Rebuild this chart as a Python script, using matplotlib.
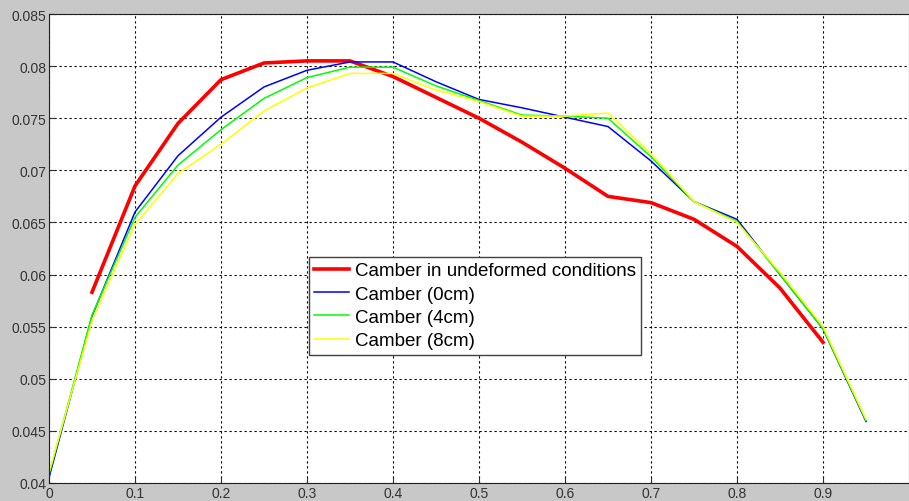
import numpy as np
import matplotlib.pyplot as plt

plt.rcParams['font.family'] = ['Liberation Sans', 'DejaVu Sans']

x = [0.0, 0.05, 0.1, 0.15, 0.2, 0.25, 0.3, 0.35, 0.4, 0.45, 0.5,
     0.55, 0.6, 0.65, 0.7, 0.75, 0.8, 0.85, 0.9, 0.95]

# undeformed camber only from 0.05 to 0.9
x_undef = x[1:19]
camber_undef = [0.0583, 0.0685, 0.0745, 0.0787, 0.0803, 0.0805, 0.0805, 0.0790,
                0.0770, 0.0750, 0.0727, 0.0702, 0.0675, 0.0669, 0.0653, 0.0627,
                0.0587, 0.0535]
camber_0 = [0.0405, 0.0560, 0.0660, 0.0714, 0.0751, 0.0780, 0.0796, 0.0804, 0.0804,
            0.0785, 0.0768, 0.0760, 0.0751, 0.0742, 0.0709, 0.0670, 0.0653, 0.0600,
            0.0548, 0.0459]
camber_4 = [0.0408, 0.0561, 0.0655, 0.0705, 0.0739, 0.0769, 0.0789, 0.0799, 0.0799,
            0.0781, 0.0767, 0.0753, 0.0752, 0.0750, 0.0713, 0.0670, 0.0651, 0.0600,
            0.0548, 0.0460]
camber_8 = [0.0410, 0.0556, 0.0648, 0.0697, 0.0725, 0.0757, 0.0779, 0.0793, 0.0793,
            0.0777, 0.0766, 0.0752, 0.0752, 0.0755, 0.0716, 0.0670, 0.0650, 0.0602,
            0.0550, 0.0461]

fig = plt.figure(figsize=(9.09, 5.02), dpi=100, facecolor='#c8c8c8')
ax = fig.add_axes([49/909, 18/502, 1 - 49/909, (484-15)/502])
ax.set_facecolor('white')

ax.plot(x_undef, camber_undef, color='#ff0000', lw=2.6, label='Camber in undeformed conditions')
ax.plot(x, camber_0, color='#0000ff', lw=1.1, label='Camber (0cm)')
ax.plot(x, camber_4, color='#00ff00', lw=1.1, label='Camber (4cm)')
ax.plot(x, camber_8, color='#ffff00', lw=1.1, label='Camber (8cm)')

ax.set_xlim(0, 1.0)
ax.set_ylim(0.04, 0.085)
ax.set_xticks(np.arange(0, 1.0, 0.1))
ax.set_xticklabels(['0', '0.1', '0.2', '0.3', '0.4', '0.5', '0.6', '0.7', '0.8', '0.9'])
yt = np.arange(0.04, 0.0851, 0.005)
ax.set_yticks(yt)
ax.set_yticklabels(['0.04', '0.045', '0.05', '0.055', '0.06', '0.065', '0.07',
                    '0.075', '0.08', '0.085'])
ax.tick_params(direction='in', length=4, labelsize=10, colors='#333333', pad=2)
ax.grid(True, color='black', linestyle=(0, (2, 2.5)), lw=0.8)
for s in ax.spines.values():
    s.set_color('#202020')

leg = ax.legend(loc='lower left', bbox_to_anchor=(0.302, 0.273), fontsize=13.5,
                frameon=True, fancybox=False, framealpha=1, edgecolor='#404040',
                handlelength=1.85, handletextpad=0.3, borderpad=0.3, labelspacing=0.33,
                borderaxespad=0)
leg.get_frame().set_linewidth(1.0)

plt.savefig('out.png', dpi=100, facecolor=fig.get_facecolor())
